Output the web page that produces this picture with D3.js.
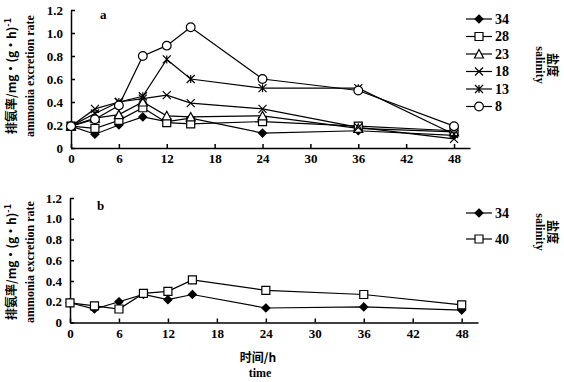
<!DOCTYPE html>
<html>
<head>
<meta charset="utf-8">
<script src="https://cdn.jsdelivr.net/npm/d3@7"></script>
<style>
  body { margin: 0; background: #fff; }
  text { fill: #000; }
  .tick text { font-family: "Liberation Serif", serif; font-weight: bold; font-size: 13px; }
</style>
</head>
<body>
<svg id="chart" width="564" height="382"></svg>
<script>
// sampling times (h)
const hours = [0, 3, 6, 9, 12, 15, 24, 36, 48];
const xTicks = [0, 6, 12, 18, 24, 30, 36, 42, 48];
const yTicks = [0, 0.2, 0.4, 0.6, 0.8, 1.0, 1.2];

// panel a: ammonia excretion rate by salinity
const salinityA = ['34', '28', '23', '18', '13', '8'];
const markersA = ['diamond', 'square', 'triangle', 'cross', 'asterisk', 'circle'];
const rateA34 = [0.19, 0.12, 0.20, 0.27, 0.23, 0.26, 0.13, 0.15, 0.11];
const rateA28 = [0.19, 0.17, 0.24, 0.35, 0.22, 0.21, 0.23, 0.19, 0.15];
const rateA23 = [0.19, 0.26, 0.29, 0.40, 0.28, 0.27, 0.28, 0.17, 0.14];
const rateA18 = [0.19, 0.34, 0.40, 0.43, 0.46, 0.39, 0.34, 0.18, 0.08];
const rateA13 = [0.19, 0.30, 0.40, 0.45, 0.77, 0.60, 0.52, 0.52, 0.12];
const rateA8  = [0.19, 0.25, 0.37, 0.80, 0.89, 1.05, 0.60, 0.50, 0.19];

// panel b
const salinityB = ['34', '40'];
const markersB = ['diamond', 'square'];
const rateB34 = [0.19, 0.13, 0.20, 0.27, 0.22, 0.27, 0.14, 0.15, 0.12];
const rateB40 = [0.19, 0.16, 0.13, 0.28, 0.30, 0.41, 0.31, 0.27, 0.17];

const svg = d3.select('#chart');

// marker paths centred at 0,0
function markerPath(kind) {
  const r = 4;
  switch (kind) {
    case 'diamond': return `M0,${-r}L${r},0L0,${r}L${-r},0Z`;
    case 'square': return `M${-r},${-r}H${r}V${r}H${-r}Z`;
    case 'triangle': return `M0,${-r - 0.5}L${r + 0.5},${r}L${-r - 0.5},${r}Z`;
    case 'cross': return `M${-r},${-r}L${r},${r}M${-r},${r}L${r},${-r}`;
    case 'asterisk': return `M${-r},${-r}L${r},${r}M${-r},${r}L${r},${-r}M0,${-r}V${r}`;
    case 'circle': return d3.symbol(d3.symbolCircle, 60)();
  }
}
const filled = (k) => k === 'diamond';

function drawPanel(cfg) {
  const g = svg.append('g').attr('class', 'panel');
  const x = d3.scaleLinear().domain([0, 50]).range(cfg.xRange);
  const y = d3.scaleLinear().domain([0, 1.2]).range(cfg.yRange);

  const xAxis = g.append('g')
    .attr('transform', `translate(0,${cfg.yRange[0]})`)
    .call(d3.axisBottom(x).tickValues(xTicks).tickSizeInner(-4).tickSizeOuter(0).tickPadding(6).tickFormat(d3.format('d')));
  const yAxis = g.append('g')
    .attr('transform', `translate(${cfg.xRange[0]},0)`)
    .call(d3.axisLeft(y).tickValues(yTicks).tickSizeInner(-4).tickSizeOuter(0).tickPadding(8)
      .tickFormat((d) => (d === 0 ? '0' : d3.format('.1f')(d))));
  [xAxis, yAxis].forEach((a) => {
    a.selectAll('path, line').attr('stroke', '#000').attr('stroke-width', 1.5);
  });

  const line = d3.line().x((d) => x(d[0])).y((d) => y(d[1]));

  cfg.series.forEach((s) => {
    const pts = hours.map((h, i) => [h, s.values[i]]);
    g.append('path').datum(pts)
      .attr('d', line).attr('fill', 'none').attr('stroke', '#000').attr('stroke-width', 1.2);
  });
  // markers drawn after lines, last series on top
  cfg.series.forEach((s) => {
    g.append('g').selectAll('path')
      .data(hours.map((h, i) => [h, s.values[i]]))
      .join('path')
      .attr('transform', (d) => `translate(${x(d[0])},${y(d[1])})`)
      .attr('d', markerPath(s.marker))
      .attr('fill', filled(s.marker) ? '#000' : '#fff')
      .attr('stroke', '#000').attr('stroke-width', 1.2);
  });

  // panel letter
  g.append('text').attr('x', cfg.letterPos[0]).attr('y', cfg.letterPos[1])
    .attr('font-family', 'Liberation Serif, serif').attr('font-weight', 'bold').attr('font-size', 13)
    .text(cfg.letter);

  // legend
  const lg = g.append('g');
  cfg.series.forEach((s, i) => {
    const ly = cfg.legendY + i * cfg.legendStep;
    lg.append('line').attr('x1', 466).attr('x2', 492).attr('y1', ly).attr('y2', ly)
      .attr('stroke', '#000').attr('stroke-width', 1.2);
    lg.append('path').attr('transform', `translate(479,${ly})`)
      .attr('d', markerPath(s.marker))
      .attr('fill', filled(s.marker) ? '#000' : '#fff')
      .attr('stroke', '#000').attr('stroke-width', 1.2);
    lg.append('text').attr('x', 495).attr('y', ly).attr('dy', '0.35em')
      .attr('font-family', 'Liberation Serif, serif').attr('font-weight', 'bold').attr('font-size', 14)
      .text(s.name);
  });
  // legend title, rotated clockwise
  lg.append('text')
    .attr('transform', `translate(548,${cfg.titleY}) rotate(90)`)
    .attr('text-anchor', 'middle')
    .attr('font-family', 'Noto Sans CJK SC').attr('font-weight', 'bold').attr('font-size', 12)
    .text('盐度');
  lg.append('text')
    .attr('transform', `translate(536,${cfg.titleY}) rotate(90)`)
    .attr('text-anchor', 'middle')
    .attr('font-family', 'Liberation Serif, serif').attr('font-weight', 'bold').attr('font-size', 12)
    .text('salinity');

  // y title, two lines
  const yt = g.append('g').attr('transform', `translate(0,${cfg.yTitleY})`);
  const cn = yt.append('text').attr('transform', 'translate(16,0) rotate(-90)')
    .attr('text-anchor', 'middle')
    .attr('font-family', 'Noto Sans CJK SC').attr('font-weight', 'bold').attr('font-size', 12);
  cn.append('tspan').text('排氨率/mg·(g·h)');
  cn.append('tspan').attr('dy', -5).attr('font-size', 9).text('-1');
  yt.append('text').attr('transform', 'translate(34,0) rotate(-90)')
    .attr('text-anchor', 'middle')
    .attr('font-family', 'Liberation Serif, serif').attr('font-weight', 'bold').attr('font-size', 12)
    .text('ammonia excretion rate');
}

drawPanel({
  xRange: [71, 470], yRange: [148, 10],
  letter: 'a', letterPos: [100, 19],
  legendY: 19, legendStep: 17.5, titleY: 65, yTitleY: 76,
  series: [rateA34, rateA28, rateA23, rateA18, rateA13, rateA8].map((v, i) => ({
    name: salinityA[i], marker: markersA[i], values: v,
  })),
});

drawPanel({
  xRange: [70, 478], yRange: [322.5, 198],
  letter: 'b', letterPos: [97, 210],
  legendY: 213, legendStep: 26, titleY: 232, yTitleY: 262,
  series: [rateB34, rateB40].map((v, i) => ({
    name: salinityB[i], marker: markersB[i], values: v,
  })),
});

// x axis title under panel b
svg.append('text').attr('x', 258).attr('y', 362).attr('text-anchor', 'middle')
  .attr('font-family', 'Noto Sans CJK SC').attr('font-weight', 'bold').attr('font-size', 12)
  .text('时间/h');
svg.append('text').attr('x', 260).attr('y', 377).attr('text-anchor', 'middle')
  .attr('font-family', 'Liberation Serif, serif').attr('font-weight', 'bold').attr('font-size', 12)
  .text('time');
</script>
</body>
</html>
